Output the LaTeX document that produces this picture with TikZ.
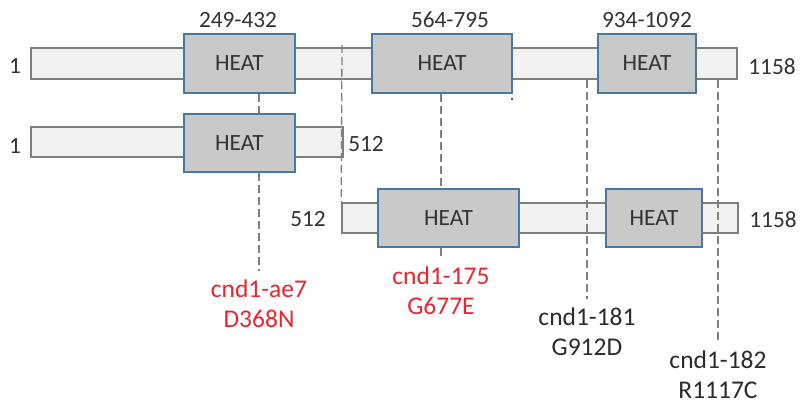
\documentclass[tikz,border=0pt]{standalone}
\usepackage{fontspec}
\setmainfont{Carlito}
\begin{document}
\begin{tikzpicture}[x=1pt,y=-1pt,
  bar/.style={draw=barline,fill=barfill,line width=1.6pt,minimum height=30.5pt,inner sep=0pt},
  heat/.style={draw=heatline,fill=heatfill,line width=2pt,minimum height=58.5pt,inner sep=0pt,
    text=txt,font=\fontsize{23.3}{26}\selectfont},
  num/.style={text=txt,font=\fontsize{23.3}{26}\selectfont,inner sep=0pt},
  mut/.style={font=\fontsize{25.5}{30}\selectfont,align=center,inner sep=0pt},
  guide/.style={draw=dashc,line width=1.3pt,dash pattern=on 8pt off 4pt}]
\definecolor{barline}{HTML}{7F7F7F}
\definecolor{barfill}{HTML}{F2F2F2}
\definecolor{heatline}{HTML}{4A78A6}
\definecolor{heatfill}{HTML}{C9C9C9}
\definecolor{txt}{HTML}{333333}
\definecolor{dashc}{HTML}{808080}
\definecolor{redt}{HTML}{E8262E}
\definecolor{blkt}{HTML}{2B2B2B}
\useasboundingbox[fill=white] (0,0) rectangle (801,404);

% row 1
\node[bar,minimum width=706pt] (b1) at (384,63.5) {};
\node[heat,minimum width=111pt] (h1a) at (239.5,63.5) {HEAT};
\node[heat,minimum width=140pt] (h1b) at (442,63.5) {HEAT};
\node[heat,minimum width=98pt] (h1c) at (647,63.5) {HEAT};
\node[num] (r1a) at (238,20) {249-432};
\node[num] (r1b) at (450,20) {564-795};
\node[num] (r1c) at (647,20) {934-1092};
\node[num] (s1) at (15,66) {1};
\node[num] (e1) at (772,67) {1158};

% row 2
\node[bar,minimum width=312pt] (b2) at (187,142) {};
\node[heat,minimum width=111pt] (h2) at (239.5,143) {HEAT};
\node[num] (s2) at (15,146) {1};
\node[num] (e2) at (366,144) {512};

% row 3
\node[bar,minimum width=396pt] (b3) at (540,218) {};
\node[heat,minimum width=141pt] (h3a) at (448.5,218) {HEAT};
\node[heat,minimum width=96pt] (h3b) at (654,218) {HEAT};
\node[num] (s3) at (308,219) {512};
\node[num] (e3) at (773,220) {1158};

% mutation labels
\node[mut,text=redt] (mA) at (259,304) {cnd1-ae7\\D368N};
\node[mut,text=redt] (mB) at (441,291) {cnd1-175\\G677E};
\node[mut,text=blkt] (mC) at (587,332) {cnd1-181\\G912D};
\node[mut,text=blkt] (mD) at (718,375) {cnd1-182\\R1117C};

\coordinate (top2) at (342,45);

% guide lines
\draw[guide] (h1a.south -| mA) -- (h2.north -| mA);
\draw[guide] (h2.south -| mA) -- ([yshift=9pt]mA.north);
\draw[guide] (h1b.south -| mB) -- (h3a.north -| mB);
\draw[guide] (h3a.south -| mB) -- ([yshift=9pt]mB.north);
\draw[guide] (top2) -- (b3.north west);
\draw[guide] (b1.south -| mC) -- ([yshift=9pt]mC.north);
\draw[guide] (b1.south -| mD) -- ([yshift=9pt]mD.north);

\fill[blue] (512,99) circle (1.1pt);
\end{tikzpicture}
\end{document}
